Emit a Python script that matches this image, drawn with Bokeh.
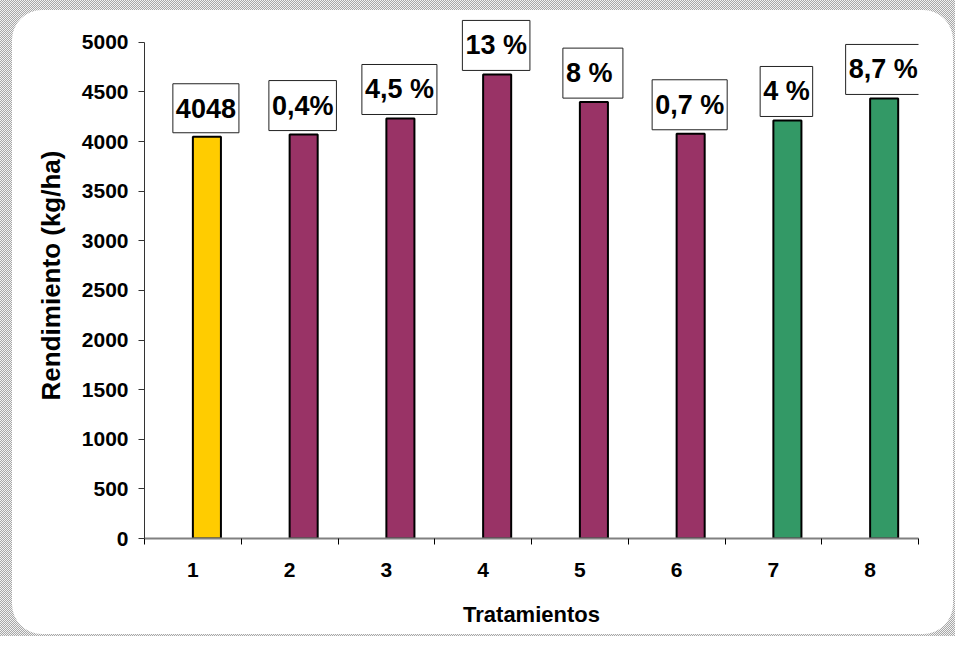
from bokeh.plotting import figure
from bokeh.layouts import column, row
from bokeh.models import ColumnDataSource, Range1d, FixedTicker, Label, Spacer
from bokeh.embed import file_html
from bokeh.resources import INLINE

# ---- data ----
tratamientos = ["1", "2", "3", "4", "5", "6", "7", "8"]
rendimiento = [4048, 4070, 4232, 4676, 4397, 4078, 4212, 4434]
etiquetas = ["4048", "0,4%", "4,5 %", "13 %", "8  %", "0,7 %", "4 %", "8,7 %"]
colores = ["#FFCC00", "#993366", "#993366", "#993366", "#993366", "#993366", "#339966", "#339966"]
y_ticks = [0, 500, 1000, 1500, 2000, 2500, 3000, 3500, 4000, 4500, 5000]

FONT = "Liberation Sans"
BAR_W = 0.29

xpos = [int(t) for t in tratamientos]
xbar = [v + BAR_W / 2 for v in xpos]
src = ColumnDataSource(dict(x=xbar, top=rendimiento, color=colores, label=etiquetas))

p = figure(width=941, height=624, output_backend="svg", toolbar_location=None,
           x_range=Range1d(0.5, 8.5), y_range=Range1d(0, 5300),
           min_border_left=132, min_border_right=35, min_border_top=2, min_border_bottom=96)
p.border_fill_color = None
p.background_fill_color = None
p.outline_line_color = None
p.styles = {"background-color": "white", "border-radius": "30px"}
p.xgrid.visible = False
p.ygrid.visible = False

p.vbar(x="x", top="top", bottom=0, width=BAR_W, fill_color="color",
       line_color="black", line_width=2, source=src)

for xv, yv, txt in zip(xbar, rendimiento, etiquetas):
    # keep every label box the same height whatever glyphs its text has
    pad_v = 10 if "%" in txt else 15
    p.add_layout(Label(x=xv, y=yv, text=txt, anchor="bottom_center",
                       y_offset=4, x_offset=-1,
                       text_font=FONT, text_font_style="bold", text_font_size="27px",
                       text_color="black", background_fill_color="white",
                       border_line_color="#222222", border_line_width=1,
                       padding=(3, pad_v)))

# axes
xa = p.xaxis[0]
xa.ticker = FixedTicker(ticks=xpos, minor_ticks=[v - 0.5 for v in xpos] + [xpos[-1] + 0.5])
xa.axis_line_color = "#808080"
xa.axis_line_width = 2
xa.major_tick_line_color = None
xa.major_tick_out = 0
xa.major_tick_in = 0
xa.minor_tick_out = 6
xa.minor_tick_in = 0
xa.minor_tick_line_color = "black"
xa.major_label_standoff = 18
xa.major_label_text_font = FONT
xa.major_label_text_font_style = "bold"
xa.major_label_text_font_size = "21px"
xa.major_label_text_color = "black"
xa.axis_label = "Tratamientos"
xa.axis_label_text_font = FONT
xa.axis_label_text_font_style = "bold"
xa.axis_label_text_font_size = "22px"
xa.axis_label_text_color = "black"
xa.axis_label_standoff = 22

ya = p.yaxis[0]
ya.ticker = FixedTicker(ticks=y_ticks, minor_ticks=[])
ya.bounds = (0, 5000)
ya.axis_line_color = "#333333"
ya.axis_line_width = 1
ya.major_tick_line_color = "#333333"
ya.major_tick_out = 6
ya.major_tick_in = 0
ya.minor_tick_line_color = None
ya.major_label_standoff = 10
ya.major_label_text_font = FONT
ya.major_label_text_font_style = "bold"
ya.major_label_text_font_size = "21px"
ya.major_label_text_color = "black"
ya.axis_label = "Rendimiento (kg/ha)"
ya.axis_label_text_font = FONT
ya.axis_label_text_font_style = "bold"
ya.axis_label_text_font_size = "26px"
ya.axis_label_text_color = "black"
ya.axis_label_standoff = 13

layout = column(Spacer(height=10, width=955), row(Spacer(width=12, height=624), p),
                width=955, height=636, styles={
    "background-color": "#e6e6e6",
    "background-image": "repeating-conic-gradient(#a8a8a8 0% 25%, #f2f2f2 0% 50%)",
    "background-size": "2px 2px",
})

open("out.html", "w").write(file_html(layout, INLINE))
